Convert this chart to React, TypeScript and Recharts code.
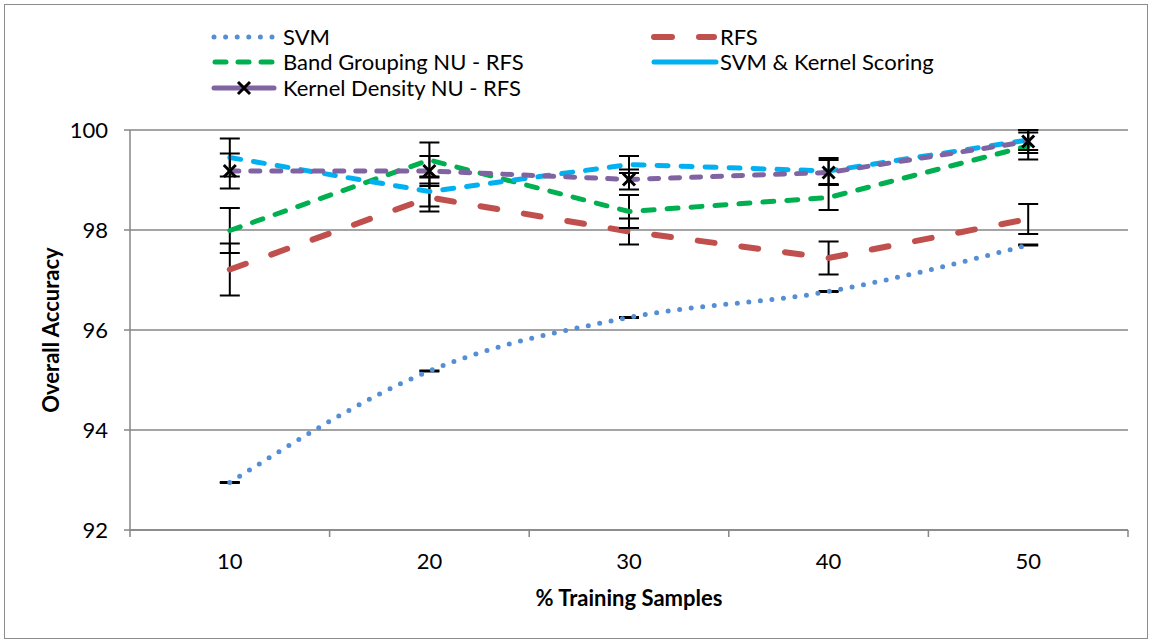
import { CartesianGrid, ErrorBar, Label, Line, LineChart, XAxis, YAxis } from "recharts";

const trainingPct = [10, 20, 30, 40, 50];
const yTicks = [92, 94, 96, 98, 100];

const svm = [92.95, 95.18, 96.25, 96.77, 97.7];
const svmErr = [0.01, 0.01, 0.01, 0.01, 0.01];
const rfs = [97.21, 98.65, 97.97, 97.44, 98.22];
const rfsErr = [0.52, 0.28, 0.26, 0.33, 0.3];
const bandGroup = [97.99, 99.4, 98.37, 98.65, 99.68];
const bandGroupErr = [0.45, 0.35, 0.33, 0.25, 0.27];
const kernelScore = [99.45, 98.77, 99.31, 99.18, 99.8];
const kernelScoreErr = [0.38, 0.3, 0.17, 0.26, 0.2];
const kernelDensity = [99.18, 99.18, 99.01, 99.15, 99.77];
const kernelDensityErr = [0.35, 0.3, 0.2, 0.25, 0.23];

const rows = trainingPct.map((pct, i) => ({
  pct,
  svm: svm[i],
  svmErr: svmErr[i],
  rfs: rfs[i],
  rfsErr: rfsErr[i],
  band: bandGroup[i],
  bandErr: bandGroupErr[i],
  kscore: kernelScore[i],
  kscoreErr: kernelScoreErr[i],
  kdens: kernelDensity[i],
  kdensErr: kernelDensityErr[i],
}));

// category boundaries (tick marks sit between the categories, like Excel)
const step = trainingPct[1] - trainingPct[0];
const boundaries = [...trainingPct.map((p) => p - step / 2), trainingPct[trainingPct.length - 1] + step / 2];
const xTicks = [...boundaries, ...trainingPct].sort((a, b) => a - b);

const FONT = "Lato, 'Open Sans', sans-serif";
const GRID = "#868686";

const XTick = (props: any) => {
  const { x, y, payload } = props;
  if (trainingPct.includes(payload.value)) {
    return (
      <text x={x} y={y + 39} textAnchor="middle" fontSize={22} fill="#000" fontFamily={FONT}>
        {payload.value}
      </text>
    );
  }
  return <line x1={x} x2={x} y1={y} y2={y + 7} stroke={GRID} strokeWidth={1.5} />;
};

const YTitle = (props: any) => {
  const { viewBox } = props;
  const cx = viewBox.x - 10;
  const cy = viewBox.y + viewBox.height / 2;
  return (
    <text
      x={cx}
      y={cy}
      transform={`rotate(-90 ${cx} ${cy})`}
      textAnchor="middle"
      dominantBaseline="central"
      fontSize={22}
      fontWeight="bold"
      fontFamily={FONT}
      fill="#000"
    >
      Overall Accuracy
    </text>
  );
};

const XTitle = (props: any) => {
  const { viewBox } = props;
  return (
    <text
      x={viewBox.x + viewBox.width / 2}
      y={viewBox.y + 76}
      textAnchor="middle"
      fontSize={22}
      fontWeight="bold"
      fontFamily={FONT}
      fill="#000"
    >
      % Training Samples
    </text>
  );
};

const XMark = (props: any) => {
  const { cx, cy, index } = props;
  const s = 6;
  return (
    <path
      key={`x-${index}`}
      d={`M${cx - s},${cy - s}L${cx + s},${cy + s}M${cx + s},${cy - s}L${cx - s},${cy + s}`}
      stroke="#000"
      strokeWidth={3}
    />
  );
};

function ChartLegend() {
  const txt = { fontSize: 22, fontFamily: FONT, fill: "#000" } as const;
  return (
    <svg width={1151} height={110} style={{ position: "absolute", left: 0, top: 0 }}>
      {/* SVM */}
      <line x1={214} x2={272} y1={37} y2={37} stroke="#558ED5" strokeWidth={5} strokeDasharray="0 11.6" strokeLinecap="round" />
      <text x={283} y={45} {...txt}>SVM</text>
      {/* RFS */}
      <line x1={654} x2={714} y1={37} y2={37} stroke="#C0504D" strokeWidth={6} strokeDasharray="18 27" strokeLinecap="round" />
      <text x={720} y={45} {...txt}>RFS</text>
      {/* Band grouping */}
      <line x1={215} x2={272} y1={62} y2={62} stroke="#00B050" strokeWidth={5} strokeDasharray="11 12" strokeLinecap="round" />
      <text x={283} y={70} {...txt}>Band Grouping NU - RFS</text>
      {/* SVM & kernel scoring */}
      <line x1={654} x2={716} y1={62} y2={62} stroke="#00B0F0" strokeWidth={5} strokeLinecap="round" />
      <text x={720} y={70} {...txt}>SVM &amp; Kernel Scoring</text>
      {/* Kernel density */}
      <line x1={214} x2={274} y1={88} y2={88} stroke="#8064A2" strokeWidth={5} strokeLinecap="round" />
      <path d="M238,82L250,94M250,82L238,94" stroke="#000" strokeWidth={3} />
      <text x={283} y={96} {...txt}>Kernel Density NU - RFS</text>
    </svg>
  );
}

export default function App() {
  return (
    <div
      style={{
        position: "absolute",
        left: 0,
        top: 0,
        width: 1151,
        height: 641,
        background: "#fff",
        fontFamily: FONT,
      }}
    >
      <div
        style={{
          position: "absolute",
          left: 4,
          top: 4,
          width: 1144,
          height: 635,
          border: "1px solid #8c8c8c",
          boxSizing: "border-box",
        }}
      />
      <LineChart width={1151} height={641} data={rows} margin={{ top: 130, right: 23, bottom: 51, left: 60 }}>
        <CartesianGrid vertical={false} stroke={GRID} strokeWidth={1.5} />
        <XAxis
          dataKey="pct"
          type="number"
          domain={[boundaries[0], boundaries[boundaries.length - 1]]}
          ticks={xTicks}
          interval={0}
          tick={<XTick />}
          tickLine={false}
          tickSize={0}
          tickMargin={0}
          axisLine={{ stroke: GRID, strokeWidth: 1.5 }}
          height={60}
        >
          <Label content={<XTitle />} />
        </XAxis>
        <YAxis
          domain={[92, 100]}
          ticks={yTicks}
          interval={0}
          width={70}
          tick={{ fill: "#000", fontSize: 22, fontFamily: FONT }}
          tickLine={{ stroke: GRID, strokeWidth: 1.5 }}
          tickSize={6}
          tickMargin={16}
          axisLine={{ stroke: GRID, strokeWidth: 1.5 }}
        >
          <Label content={<YTitle />} />
        </YAxis>
        <Line
          dataKey="svm"
          type="monotone"
          stroke="#558ED5"
          strokeWidth={5}
          strokeDasharray="0 11.6"
          strokeLinecap="round"
          dot={false}
          activeDot={false}
          isAnimationActive={false}
        >
          <ErrorBar dataKey="svmErr" width={10} stroke="#000" strokeWidth={2} direction="y" />
        </Line>
        <Line
          dataKey="rfs"
          type="linear"
          stroke="#C0504D"
          strokeWidth={6}
          strokeDasharray="17 27"
          strokeLinecap="round"
          dot={false}
          activeDot={false}
          isAnimationActive={false}
        >
          <ErrorBar dataKey="rfsErr" width={10} stroke="#000" strokeWidth={2} direction="y" />
        </Line>
        <Line
          dataKey="band"
          type="linear"
          stroke="#00B050"
          strokeWidth={5}
          strokeDasharray="11 13"
          strokeLinecap="round"
          dot={false}
          activeDot={false}
          isAnimationActive={false}
        >
          <ErrorBar dataKey="bandErr" width={10} stroke="#000" strokeWidth={2} direction="y" />
        </Line>
        <Line
          dataKey="kscore"
          type="linear"
          stroke="#00B0F0"
          strokeWidth={5}
          strokeDasharray="11 13"
          strokeLinecap="round"
          dot={false}
          activeDot={false}
          isAnimationActive={false}
        >
          <ErrorBar dataKey="kscoreErr" width={10} stroke="#000" strokeWidth={2} direction="y" />
        </Line>
        <Line
          dataKey="kdens"
          type="linear"
          stroke="#8064A2"
          strokeWidth={5}
          strokeDasharray="9 12"
          strokeLinecap="round"
          dot={<XMark />}
          activeDot={false}
          isAnimationActive={false}
        >
          <ErrorBar dataKey="kdensErr" width={10} stroke="#000" strokeWidth={2} direction="y" />
        </Line>
      </LineChart>
      <ChartLegend />
    </div>
  );
}
